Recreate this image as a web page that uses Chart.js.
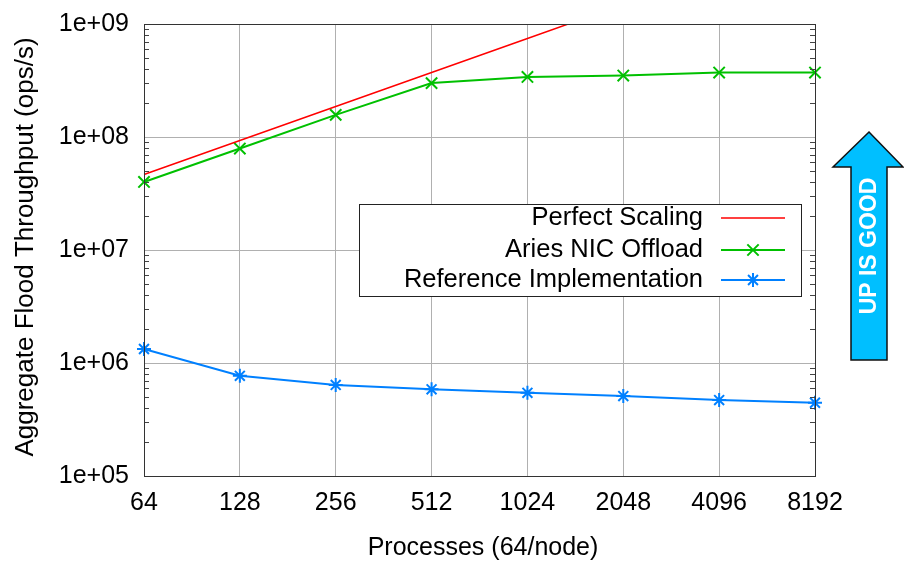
<!DOCTYPE html>
<html>
<head>
<meta charset="utf-8">
<script src="https://cdn.jsdelivr.net/npm/chart.js@4.4.1/dist/chart.umd.min.js"></script>
<style>
  html, body { margin: 0; padding: 0; background: #fff; }
  #wrap { width: 904px; height: 562px; position: relative; }
</style>
</head>
<body>
<div id="wrap"><canvas id="flood"></canvas></div>
<script>
// --- data ---
const processes = ['64', '128', '256', '512', '1024', '2048', '4096', '8192'];
const perfectScaling = [4.65e7, 9.3e7, 1.86e8, 3.72e8, 7.44e8, 1.49e9, 2.98e9, 5.95e9];
const ariesOffload = [4.0e7, 7.9e7, 1.57e8, 3.0e8, 3.4e8, 3.5e8, 3.72e8, 3.72e8];
const referenceImpl = [1.33e6, 7.7e5, 6.4e5, 5.85e5, 5.45e5, 5.1e5, 4.7e5, 4.45e5];
const yDecades = [1e5, 1e6, 1e7, 1e8, 1e9];

const FONT = '"Liberation Sans", Arial, sans-serif';

// minor ticks, frame, titles, legend and the arrow
const decorations = {
    id: 'decorations',
    afterDatasetsDraw(chart) {
        const ctx = chart.ctx;
        const { left, right, top, bottom } = chart.chartArea;
        const y = chart.scales.y;
        ctx.save();
        // minor ticks on both sides
        ctx.strokeStyle = '#444';
        ctx.lineWidth = 1;
        for (let d = 1e5; d < 1e9; d *= 10) {
            for (let m = 2; m <= 9; m++) {
                const py = Math.round(y.getPixelForValue(d * m)) + 0.5;
                ctx.beginPath();
                ctx.moveTo(left, py); ctx.lineTo(left + 5, py);
                ctx.moveTo(right, py); ctx.lineTo(right - 5, py);
                ctx.stroke();
            }
        }
        // frame
        ctx.strokeStyle = '#333';
        ctx.strokeRect(left + 0.5, top + 0.5, right - left, bottom - top);

        // axis titles
        ctx.fillStyle = '#000';
        ctx.font = '25px ' + FONT;
        ctx.textAlign = 'center';
        ctx.textBaseline = 'middle';
        ctx.fillText('Processes (64/node)', 483, 548);
        ctx.save();
        ctx.translate(26, 247);
        ctx.rotate(-Math.PI / 2);
        ctx.font = '26px ' + FONT;
        ctx.fillText('Aggregate Flood Throughput (ops/s)', 0, 0);
        ctx.restore();

        // legend
        ctx.fillStyle = '#fff';
        ctx.fillRect(359, 204, 442, 92);
        ctx.strokeStyle = '#222';
        ctx.lineWidth = 1;
        ctx.strokeRect(359.5, 204.5, 442, 92);
        ctx.font = '25.5px ' + FONT;
        ctx.textAlign = 'right';
        const rows = chart.data.datasets;
        const rowY = [218, 250, 280];
        rows.forEach((ds, i) => {
            ctx.fillStyle = '#000';
            ctx.fillText(ds.label, 703, rowY[i]);
            ctx.strokeStyle = ds.borderColor;
            ctx.lineWidth = ds.borderWidth;
            ctx.beginPath();
            ctx.moveTo(721, rowY[i]); ctx.lineTo(785, rowY[i]);
            ctx.stroke();
            if (ds.pointStyle && ds.pointRadius > 0) {
                Chart.helpers.drawPoint(ctx, {
                    pointStyle: ds.pointStyle, radius: ds.pointRadius,
                    borderWidth: ds.pointBorderWidth || 2
                }, 753, rowY[i]);
            }
        });

        // "UP IS GOOD" arrow
        ctx.fillStyle = '#00bfff';
        ctx.strokeStyle = '#111';
        ctx.lineWidth = 1.5;
        ctx.beginPath();
        ctx.moveTo(869, 132);
        ctx.lineTo(903, 167);
        ctx.lineTo(887, 167);
        ctx.lineTo(887, 360);
        ctx.lineTo(851, 360);
        ctx.lineTo(851, 167);
        ctx.lineTo(833, 167);
        ctx.closePath();
        ctx.fill();
        ctx.stroke();
        ctx.save();
        ctx.translate(869, 246);
        ctx.rotate(-Math.PI / 2);
        ctx.fillStyle = '#fff';
        ctx.font = 'bold 23px ' + FONT;
        ctx.textAlign = 'center';
        ctx.fillText('UP IS GOOD', 0, 1);
        ctx.restore();
        ctx.restore();
    }
};

new Chart(document.getElementById('flood'), {
    type: 'line',
    data: {
        labels: processes,
        datasets: [{
            label: 'Perfect Scaling',
            data: perfectScaling,
            borderColor: '#ff0000',
            borderWidth: 1.5,
            pointRadius: 0,
            pointStyle: false
        }, {
            label: 'Aries NIC Offload',
            data: ariesOffload,
            borderColor: '#00c000',
            borderWidth: 2,
            pointStyle: 'crossRot',
            pointRadius: 8,
            pointBorderWidth: 2,
            clip: false
        }, {
            label: 'Reference Implementation',
            data: referenceImpl,
            borderColor: '#0080ff',
            borderWidth: 2,
            pointStyle: 'star',
            pointRadius: 7,
            pointBorderWidth: 2,
            clip: false
        }]
    },
    options: {
        responsive: true,
        maintainAspectRatio: false,
        animation: false,
        events: [],
        layout: { padding: { top: 24, right: 89, left: 0, bottom: 0 } },
        plugins: { legend: { display: false }, tooltip: { enabled: false } },
        scales: {
            x: {
                type: 'category',
                offset: false,
                grid: { color: '#b0b0b0', drawTicks: false },
                border: { color: '#333' },
                ticks: { color: '#000', font: { family: FONT, size: 25 }, padding: 12, maxRotation: 0 },
                afterFit: s => { s.height = 86; s.paddingLeft = 0; s.paddingRight = 0; }
            },
            y: {
                type: 'logarithmic',
                min: 1e5,
                max: 1e9,
                afterBuildTicks: s => { s.ticks = yDecades.map(v => ({ value: v })); },
                grid: { color: '#b0b0b0', drawTicks: false },
                border: { color: '#333' },
                ticks: {
                    color: '#000', font: { family: FONT, size: 25 }, padding: 15,
                    callback: v => v.toExponential().replace(/e\+(\d)$/, 'e+0$1')
                },
                afterFit: s => { s.width = 144; s.paddingTop = 0; s.paddingBottom = 0; }
            }
        }
    },
    plugins: [decorations]
});
</script>
</body>
</html>
